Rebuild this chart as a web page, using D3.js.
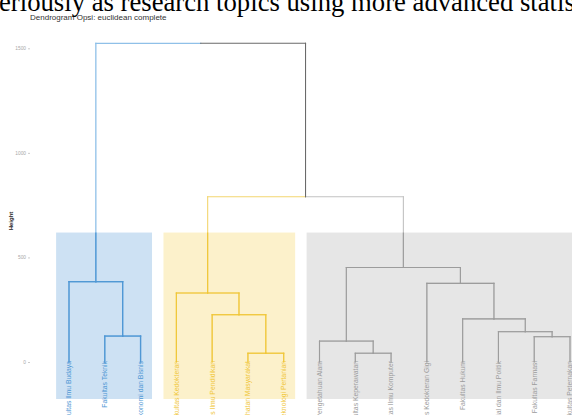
<!DOCTYPE html>
<html>
<head>
<meta charset="utf-8">
<script src="https://cdn.jsdelivr.net/npm/d3@7"></script>
<style>
  html, body { margin: 0; padding: 0; background: #fff; }
  svg { display: block; }
</style>
</head>
<body>
<svg id="chart" width="572" height="415"></svg>
<script>
// Leaves in dendrogram order
const leafLabels = [
  "Fakultas Ilmu Budaya",
  "Fakultas Teknik",
  "Fakultas Ekonomi dan Bisnis",
  "Fakultas Kedokteran",
  "Fakultas Ilmu Pendidikan",
  "Fakultas Kesehatan Masyarakat",
  "Fakultas Teknologi Pertanian",
  "Fakultas Matematika dan Ilmu Pengetahuan Alam",
  "Fakultas Keperawatan",
  "Fakultas Ilmu Komputer",
  "Fakultas Kedokteran Gigi",
  "Fakultas Hukum",
  "Fakultas Ilmu Sosial dan Ilmu Politik",
  "Fakultas Farmasi",
  "Fakultas Peternakan"
];
// Cluster of each leaf (k = 3)
const leafCluster = [1, 1, 1, 2, 2, 2, 2, 3, 3, 3, 3, 3, 3, 3, 3];

// hclust-style merges: negative = leaf (1-based), positive = earlier merge (1-based)
const merges = [
  [-2, -3],   // 1
  [-1, 1],    // 2
  [-6, -7],   // 3
  [-5, 3],    // 4
  [-4, 4],    // 5
  [-9, -10],  // 6
  [-8, 6],    // 7
  [-14, -15], // 8
  [-13, 8],   // 9
  [-12, 9],   // 10
  [-11, 10],  // 11
  [7, 11],    // 12
  [5, 12],    // 13
  [2, 13]     // 14
];
const mergeHeights = [124, 384, 42, 226, 330, 42, 100, 121, 145, 206, 376, 452, 790, 1524];

const yTicks = [0, 500, 1000, 1500];

const titleText = "Dendrogram Opsi: euclidean complete";
const yTitle = "Height";
const bodyText = "eriously as research topics using more advanced statis";

// Branch colours: on white background and inside the cluster boxes
const lineOuter = { 1: "#8fc0e8", 2: "#f3d670", 3: "#c2c2c2", 0: "#6a6a6a" };
const lineInner = { 1: "#4f97d4", 2: "#f0c636", 3: "#9c9c9c", 0: "#6a6a6a" };
const clusterFill = { 1: "#cde1f3", 2: "#fcf1cb", 3: "#e6e6e6" };

const svg = d3.select("#chart");

const x = d3.scaleLinear().domain([1, leafLabels.length]).range([69, 570]);
const y = d3.scaleLinear().domain([0, 1500]).range([362, 48.3]);

const boxTop = 619, boxBottom = -177;

// Resolve node geometry
const nodes = [];
function nodeInfo(ref) {
  if (ref < 0) {
    const i = -ref;
    return { x: x(i), h: 0, cluster: leafCluster[i - 1] };
  }
  return nodes[ref - 1];
}
merges.forEach((m, k) => {
  const a = nodeInfo(m[0]);
  const b = nodeInfo(m[1]);
  nodes.push({
    x: (a.x + b.x) / 2,
    h: mergeHeights[k],
    cluster: a.cluster === b.cluster ? a.cluster : 0,
    a, b
  });
});

// Cluster rectangles
const clusters = d3.groups(leafCluster.map((c, i) => ({ c, i: i + 1 })), d => d.c);
svg.append("g").selectAll("rect")
  .data(clusters)
  .join("rect")
  .attr("x", d => x(d3.min(d[1], e => e.i) - 0.36))
  .attr("width", d => x(d3.max(d[1], e => e.i) + 0.32) - x(d3.min(d[1], e => e.i) - 0.36))
  .attr("y", y(boxTop))
  .attr("height", y(boxBottom) - y(boxTop))
  .attr("fill", d => clusterFill[d[0]]);

// Dendrogram segments
const segs = [];
nodes.forEach(n => {
  [n.a, n.b].forEach(c => {
    segs.push({ x1: c.x, x2: c.x, y1: c.h, y2: n.h, cluster: c.cluster });
    segs.push({ x1: c.x, x2: n.x, y1: n.h, y2: n.h, cluster: c.cluster });
  });
});

svg.append("clipPath").attr("id", "box-clip")
  .append("rect")
  .attr("x", 0).attr("width", 572)
  .attr("y", y(boxTop)).attr("height", y(boxBottom) - y(boxTop));

function drawSegs(g, palette) {
  g.selectAll("line")
    .data(segs)
    .join("line")
    .attr("x1", d => d.x1).attr("x2", d => d.x2)
    .attr("y1", d => y(d.y1)).attr("y2", d => y(d.y2))
    .attr("stroke", d => palette[d.cluster])
    .attr("stroke-width", d => d.cluster === 1 ? 1.3 : 1.1)
    .attr("stroke-linecap", "square");
}
drawSegs(svg.append("g"), lineOuter);
drawSegs(svg.append("g").attr("clip-path", "url(#box-clip)"), lineInner);

// Leaf labels
svg.append("g").selectAll("text")
  .data(leafLabels)
  .join("text")
  .attr("transform", (d, i) => `translate(${x(i + 1)},${y(0) - 1}) rotate(-90)`)
  .attr("text-anchor", "end")
  .attr("dy", "0.35em")
  .attr("font-family", "Liberation Sans, Arial, sans-serif")
  .attr("font-size", 6.8)
  .attr("fill", (d, i) => lineInner[leafCluster[i]])
  .text(d => d);

// Y axis
const yAxis = svg.append("g").attr("transform", "translate(30,0)")
  .call(d3.axisLeft(y).tickValues(yTicks).tickSize(2).tickPadding(2).tickFormat(d3.format("d")));
yAxis.select(".domain").remove();
yAxis.selectAll(".tick line").attr("stroke", "#aaa").attr("stroke-width", 0.6);
yAxis.selectAll(".tick text")
  .attr("font-family", "Liberation Sans, Arial, sans-serif")
  .attr("font-size", 4.8)
  .attr("fill", "#a8a8a8");

svg.append("text")
  .attr("transform", "translate(12.5,221) rotate(-90)")
  .attr("text-anchor", "middle")
  .attr("font-family", "Liberation Sans, Arial, sans-serif")
  .attr("font-size", 6)
  .attr("font-weight", "bold")
  .attr("fill", "#222")
  .text(yTitle);

// Title
svg.append("text")
  .attr("x", 30).attr("y", 20)
  .attr("font-family", "Liberation Sans, Arial, sans-serif")
  .attr("font-size", 8)
  .attr("fill", "#333")
  .text(titleText);

// Body text line above the figure
svg.append("text")
  .attr("x", -1).attr("y", 11)
  .attr("font-family", "Liberation Serif, Times New Roman, serif")
  .attr("font-size", 26.7)
  .attr("fill", "#000")
  .text(bodyText);
</script>
</body>
</html>
